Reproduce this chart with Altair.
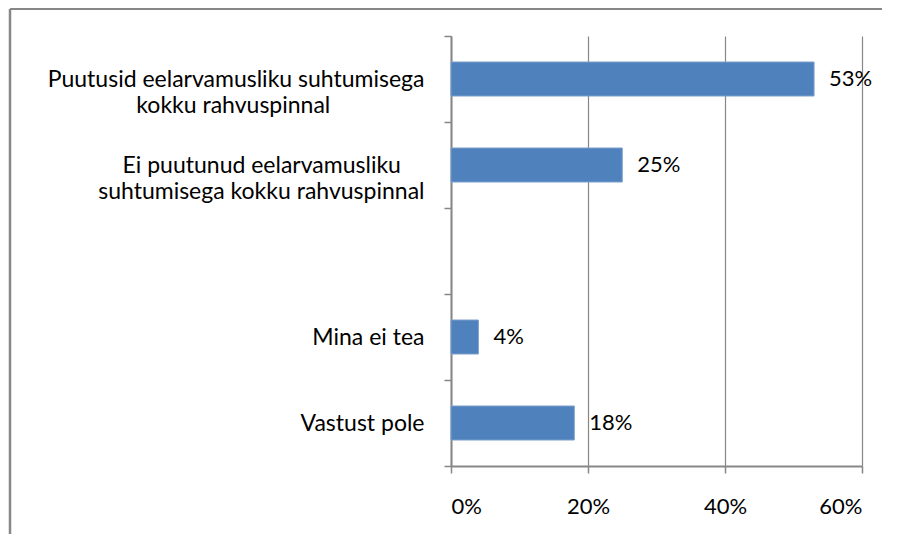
import altair as alt
import pandas as pd

categories = [
    "Puutusid eelarvamusliku suhtumisega kokku rahvuspinnal",
    "Ei puutunud eelarvamusliku suhtumisega kokku rahvuspinnal",
    " ",
    "Mina ei tea",
    "Vastust pole",
]
label_lines = [
    ["Puutusid eelarvamusliku suhtumisega", "kokku rahvuspinnal"],
    ["Ei puutunud eelarvamusliku", "suhtumisega kokku rahvuspinnal"],
    [""],
    ["Mina ei tea"],
    ["Vastust pole"],
]
# trailing no-break spaces so that the lines of a label look centred on each other
line_pad = [
    [0, 16],
    [4, 0],
    [0],
    [0],
    [0],
]
values = [53, 25, None, 4, 18]
x_ticks = [0, 0.2, 0.4, 0.6]

FONT = "Lato"
GRAY = "#878787"

df = pd.DataFrame({
    "cat": categories,
    "share": [None if v is None else v / 100 for v in values],
    "label": ["" if v is None else f"{v}%" for v in values],
})
df_bars = df.dropna(subset=["share"])

NBSP = "\u00a0"
ZWSP = "\u200b"  # keeps the trailing no-break spaces from being trimmed
expr = "''"
for cat, lines, pads in zip(reversed(categories), reversed(label_lines), reversed(line_pad)):
    parts = []
    for l, p in zip(lines, pads):
        parts.append("'" + l + (NBSP * p + ZWSP if p else "") + "'")
    arr = "[" + ",".join(parts) + "]"
    expr = f"datum.value == '{cat}' ? {arr} : ({expr})"

y_enc = alt.Y(
    "cat:N",
    sort=categories,
    scale=alt.Scale(domain=categories, paddingInner=0, paddingOuter=0),
    axis=alt.Axis(
        title=None,
        labelExpr=expr,
        labelAlign="right",
        labelBaseline="middle",
        labelLineHeight=26,
        labelFont=FONT,
        labelFontSize=23,
        labelColor="#000000",
        labelPadding=20,
        tickBand="extent",
        tickSize=7,
        tickColor=GRAY,
        tickWidth=1.5,
        domainColor=GRAY,
        domainWidth=2,
        grid=False,
        labelLimit=600,
    ),
)
x_enc = alt.X(
    "share:Q",
    scale=alt.Scale(domain=[0, 0.6], nice=False),
    axis=alt.Axis(
        title=None,
        values=x_ticks,
        format=".0%",
        labelFont=FONT,
        labelFontSize=22,
        labelColor="#000000",
        labelPadding=23,
        tickSize=7,
        tickColor=GRAY,
        tickWidth=1.5,
        domainColor=GRAY,
        domainWidth=2,
        grid=True,
        gridColor=GRAY,
        gridWidth=1.2,
    ),
)

bars = alt.Chart(df_bars).mark_bar(size=34, color="#4F81BD", stroke="#7BA0CD", strokeWidth=1).encode(
    x=x_enc, y=y_enc
)
texts = alt.Chart(df_bars).mark_text(
    align="left", baseline="middle", dx=15, font=FONT, fontSize=22, color="#000000"
).encode(x="share:Q", y=alt.Y("cat:N", sort=categories), text="label:N")

one = pd.DataFrame({"a": [0]})
frame_top = alt.Chart(one).mark_rule(color=GRAY, strokeWidth=2, strokeCap="butt").encode(
    x=alt.value(-441), x2=alt.value(431), y=alt.value(-27)
)
frame_left = alt.Chart(one).mark_rule(color=GRAY, strokeWidth=2.5, strokeCap="butt").encode(
    x=alt.value(-441), y=alt.value(-27), y2=alt.value(500)
)

chart = alt.layer(frame_top, frame_left, bars, texts).properties(
    width=411,
    height=430,
    autosize=alt.AutoSizeParams(type="none"),
    padding={"left": 443, "top": 28, "right": 20, "bottom": 68},
).configure_view(stroke=None)

chart.save("out.html", embed_options={"renderer": "svg", "actions": False})
